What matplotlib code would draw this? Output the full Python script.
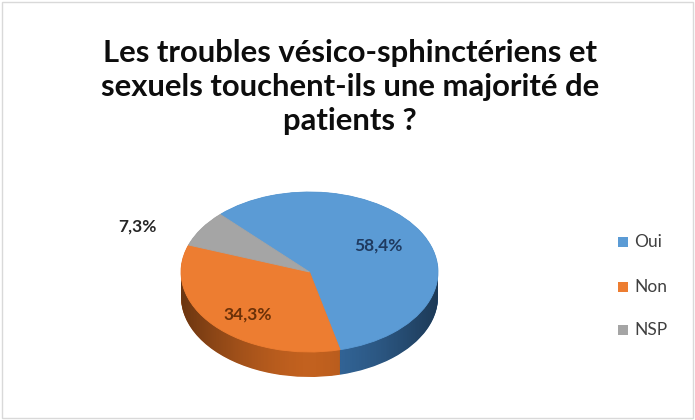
import numpy as np
import matplotlib.pyplot as plt
from matplotlib.patches import Rectangle, PathPatch
from matplotlib.path import Path

plt.rcParams['font.family'] = ['Lato', 'DejaVu Sans']

labels = ['Oui', 'Non', 'NSP']
values = [58.4, 34.3, 7.3]
pct_text = ['58,4%', '34,3%', '7,3%']
colors = ['#5B9BD5', '#ED7D31', '#A5A5A5']
side_colors = ['#34689C', '#C2611F', '#858585']
label_colors = ['#1F3A60', '#6B3108', '#262626']
title = u"Les troubles vésico-sphinctériens et\nsexuels touchent-ils une majorité de\npatients ?"

W, H = 695, 420
fig = plt.figure(figsize=(W / 100, H / 100), dpi=100)
fig.patch.set_facecolor('white')

# pie geometry in pixels (top surface ellipse)
cx, cy = 309.5, 272.0
rx, ry = 128.5, 80.0
depth = 25.0 / ry

ax = fig.add_axes([0, 0, 1, 1])
start = 134

# side wall: stacked darker pies
for k in np.linspace(depth, 0.0, 40):
    ax.pie(values, colors=side_colors, startangle=start, counterclock=False,
           center=(0, -k), radius=1.0, wedgeprops=dict(linewidth=0))

# shading on the side wall (darker towards the edges)
t = np.linspace(np.pi, 2 * np.pi, 100)
xs = np.cos(t)
ys = np.sin(t)
verts = np.concatenate([np.column_stack([xs, ys - depth]),
                        np.column_stack([xs[::-1], ys[::-1]])])
side_patch = PathPatch(Path(verts), facecolor='none', edgecolor='none')
ax.add_patch(side_patch)
gx = np.linspace(-1, 1, 200)
shade = np.zeros((2, 200, 4))
shade[..., 3] = 0.45 * np.abs(gx) ** 1.6
img = ax.imshow(shade, extent=(-1, 1, -1 - depth, 0), aspect='auto',
                interpolation='bilinear', zorder=2)
img.set_clip_path(side_patch)

wedges, _ = ax.pie(values, colors=colors, startangle=start, counterclock=False,
                   center=(0, 0), radius=1.0,
                   wedgeprops=dict(linewidth=0.6, zorder=3))
for w, c in zip(wedges, colors):
    w.set_edgecolor(c)

ax.set_aspect('auto')
ax.set_xlim(-cx / rx, (W - cx) / rx)
ax.set_ylim(-(H - cy) / ry, cy / ry)
ax.axis('off')

# percentage labels
dist = [0.63, 0.72, 1.45]
shift = [3, 6, 10]
for w, t_, c, d, s in zip(wedges, pct_text, label_colors, dist, shift):
    a = np.deg2rad((w.theta1 + w.theta2) / 2 + s)
    ax.text(d * np.cos(a), d * np.sin(a), t_, ha='center', va='center',
            fontsize=12.5, fontweight='bold', color=c, zorder=5)

fig.text(350 / W, 1 - 87 / H, title, ha='center', va='center',
         fontsize=22.3, fontweight='bold', color='#0D0D0D', linespacing=1.24)

# legend
leg_y = [242, 287, 330]
for lab, c, y in zip(labels, colors, leg_y):
    fig.patches.append(Rectangle((618 / W, 1 - (y + 5) / H), 10 / W, 10 / H,
                                 transform=fig.transFigure, facecolor=c,
                                 edgecolor='none'))
    fig.text(634 / W, 1 - y / H, lab, ha='left', va='center',
             fontsize=12.5, color='#404040')

fig.patches.append(Rectangle((2 / W, 2 / H), 1 - 4 / W, 1 - 4 / H,
                             transform=fig.transFigure, fill=False,
                             edgecolor='#D9D9D9', linewidth=1))

fig.savefig('out.png', dpi=100)
